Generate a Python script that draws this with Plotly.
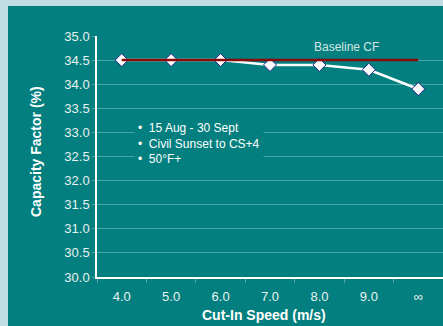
import plotly.graph_objects as go

# Cut-in speed scenarios and resulting capacity factor
cut_in_speeds = ["4.0", "5.0", "6.0", "7.0", "8.0", "9.0", "∞"]
capacity_factor = [34.5, 34.5, 34.5, 34.4, 34.4, 34.3, 33.9]
baseline_cf = [34.5] * len(cut_in_speeds)

y_ticks = [30.0, 30.5, 31.0, 31.5, 32.0, 32.5, 33.0, 33.5, 34.0, 34.5, 35.0]
notes = ["15 Aug - 30 Sept", "Civil Sunset to CS+4", "50°F+"]

TEAL = "#027f7e"
GRID = "#4ea5a4"
FONT = "Liberation Sans"

W, H = 443, 326
ML, MR, MT, MB = 97, 0, 36, 49
PW, PH = W - ML - MR, H - MT - MB


def px_x(p):
    return (p - ML) / PW


def px_y(p):
    return (H - MB - p) / PH


fig = go.Figure()

fig.add_trace(go.Scatter(
    x=cut_in_speeds, y=capacity_factor, mode="lines+markers",
    line=dict(color="white", width=2.5),
    marker=dict(symbol="diamond", size=10, color="white",
                line=dict(color="#23238a", width=1)),
    showlegend=False, hoverinfo="skip",
))
fig.add_trace(go.Scatter(
    x=cut_in_speeds, y=baseline_cf, mode="lines",
    line=dict(color="#8b0a0a", width=2.5),
    showlegend=False, hoverinfo="skip",
))

# teal panel over the light frame
fig.add_shape(type="rect", xref="paper", yref="paper",
              x0=px_x(8), x1=px_x(W + 2), y0=px_y(6), y1=px_y(H + 2),
              fillcolor=TEAL, line=dict(width=0), layer="below")

fig.add_annotation(text="Baseline CF", xref="paper", yref="paper",
                   x=px_x(346), y=px_y(47), xanchor="center", yanchor="middle",
                   showarrow=False,
                   font=dict(family=FONT, size=12, color="#d6e6e6"))

fig.add_annotation(text="<br>".join("•  " + n for n in notes),
                   xref="paper", yref="paper", xanchor="left", yanchor="top",
                   x=px_x(134), y=px_y(117), align="left", showarrow=False,
                   bgcolor=TEAL, borderpad=3,
                   font=dict(family=FONT, size=12, color="white"))

fig.add_annotation(text="<b>Capacity Factor (%)</b>", xref="paper", yref="paper",
                   x=px_x(36), y=px_y(152), xanchor="center", yanchor="middle",
                   textangle=-90, showarrow=False,
                   font=dict(family=FONT, size=14, color="white"))
fig.add_annotation(text="<b>Cut-In Speed (m/s)</b>", xref="paper", yref="paper",
                   x=px_x(264), y=px_y(315), xanchor="center", yanchor="middle",
                   showarrow=False,
                   font=dict(family=FONT, size=14, color="white"))

fig.update_layout(
    width=W, height=H,
    margin=dict(l=ML, r=MR, t=MT, b=MB),
    paper_bgcolor="#bfdde3",
    plot_bgcolor=TEAL,
    font=dict(family=FONT, size=13, color="#e8f2f2"),
    xaxis=dict(
        type="category", range=[-0.5, 6.5],
        tickson="boundaries", ticks="outside", ticklen=4, tickcolor=GRID,
        showline=True, linecolor="white", linewidth=1.5,
        showgrid=False, ticklabelstandoff=7,
        tickfont=dict(family=FONT, size=13, color="#e8f2f2"),
    ),
    yaxis=dict(
        range=[30, 35], tickvals=y_ticks, tickformat=".1f",
        showline=True, linecolor="white", linewidth=1.5,
        gridcolor=GRID, gridwidth=1, zeroline=False,
        ticks="outside", ticklen=3, tickcolor=GRID,
        tickfont=dict(family=FONT, size=13, color="#e8f2f2"),
    ),
)

fig.write_html("out.html")
